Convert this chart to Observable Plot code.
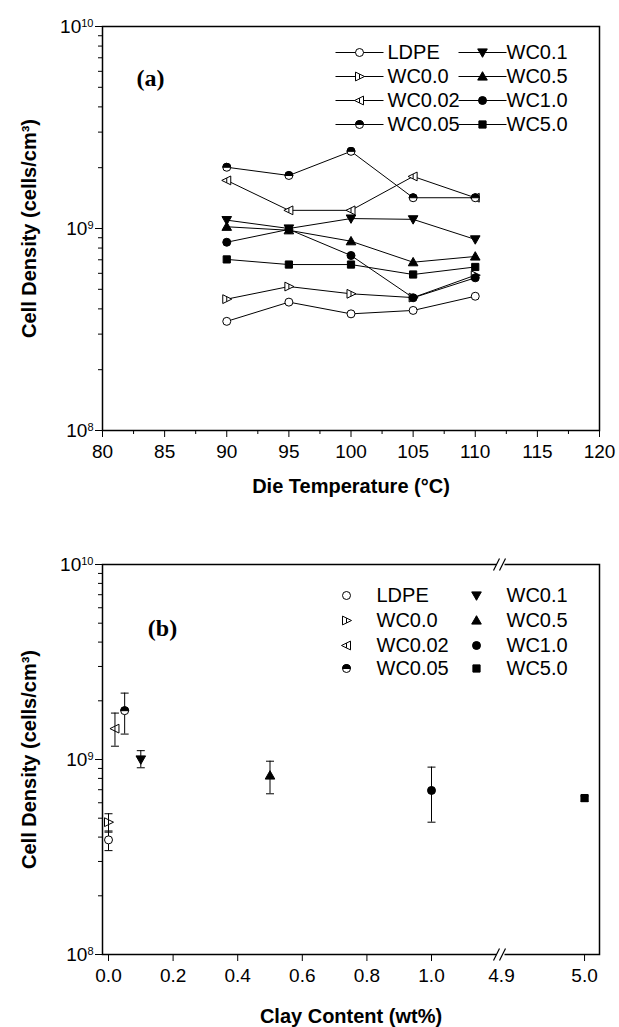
<!DOCTYPE html>
<html><head><meta charset="utf-8">
<script src="https://cdn.jsdelivr.net/npm/d3@7"></script>
<script src="https://cdn.jsdelivr.net/npm/@observablehq/plot@0.6"></script>
<style>
body{margin:0;background:#fff;}
#chart{width:619px;}
svg{display:block;}
</style></head><body><div id="chart"></div>
<script>
// ---------- data: panel (a) ----------
const temperatures = [90, 95, 100, 105, 110];
const seriesNames = ["LDPE", "WC0.0", "WC0.02", "WC0.05", "WC0.1", "WC0.5", "WC1.0", "WC5.0"];
const densityLDPE  = [3.47e8, 4.32e8, 3.78e8, 3.93e8, 4.62e8];
const densityWC00  = [4.47e8, 5.16e8, 4.75e8, 4.55e8, 5.87e8];
const densityWC002 = [1.73e9, 1.23e9, 1.23e9, 1.81e9, 1.42e9];
const densityWC005 = [2.01e9, 1.83e9, 2.41e9, 1.42e9, 1.42e9];
const densityWC01  = [1.10e9, 1.00e9, 1.12e9, 1.11e9, 8.83e8];
const densityWC05  = [1.02e9, 0.98e9, 8.65e8, 6.81e8, 7.27e8];
const densityWC10  = [8.55e8, 0.99e9, 7.35e8, 4.54e8, 5.70e8];
const densityWC50  = [7.03e8, 6.63e8, 6.63e8, 5.92e8, 6.45e8];
const tempTicks = [80, 85, 90, 95, 100, 105, 110, 115, 120];
const tempMinorTicks = [82.5, 87.5, 92.5, 97.5, 102.5, 107.5, 112.5, 117.5];

// ---------- data: panel (b) ----------
const clayContent = [0, 0, 0.02, 0.05, 0.1, 0.5, 1.0, 5.0];
const meanDensity = [3.87e8, 4.77e8, 1.44e9, 1.78e9, 1.00e9, 8.28e8, 6.94e8, 6.34e8];
const lowDensity  = [3.41e8, 4.24e8, 1.17e9, 1.35e9, 9.07e8, 6.67e8, 4.77e8, 6.10e8];
const highDensity = [4.30e8, 5.27e8, 1.73e9, 2.19e9, 1.11e9, 9.80e8, 9.14e8, 6.50e8];
const clayTicks = [0, 0.2, 0.4, 0.6, 0.8, 1.0, 5.0];
const clayBreakTick = [4.9];

const densityMajorTicks = [1e8, 1e9, 1e10];
const densityMinorTicks = [];
for (const dec of [1e8, 1e9]) for (let k = 2; k <= 9; k++) densityMinorTicks.push(k * dec);

const densityBySeries = {
  "LDPE": densityLDPE, "WC0.0": densityWC00, "WC0.02": densityWC002, "WC0.05": densityWC005,
  "WC0.1": densityWC01, "WC0.5": densityWC05, "WC1.0": densityWC10, "WC5.0": densityWC50
};

// ---------- styling ----------
const FONT = '"Liberation Sans", Arial, Helvetica, sans-serif';
const SERIF = '"Liberation Serif", "Times New Roman", serif';
function symbolOf(fn) { return {draw(ctx, size) { const s = Math.sqrt(size / Math.PI); fn(ctx, s); }}; }
const SYM = {
  circle: symbolOf((c, s) => { c.moveTo(s, 0); c.arc(0, 0, s, 0, 2 * Math.PI); }),
  topHalf: symbolOf((c, s) => { c.moveTo(-s, 0); c.arc(0, 0, s, Math.PI, 2 * Math.PI); c.closePath(); }),
  rightTri: symbolOf((c, s) => { c.moveTo(-s, -s * 1.1); c.lineTo(s * 1.25, 0); c.lineTo(-s, s * 1.1); c.closePath(); c.moveTo(0, -s * 0.6); c.lineTo(0, s * 0.6); }),
  leftTri: symbolOf((c, s) => { c.moveTo(s, -s * 1.1); c.lineTo(-s * 1.25, 0); c.lineTo(s, s * 1.1); c.closePath(); c.moveTo(0, -s * 0.6); c.lineTo(0, s * 0.6); }),
  downTri: symbolOf((c, s) => { c.moveTo(-s * 1.2, -s * 0.9); c.lineTo(s * 1.2, -s * 0.9); c.lineTo(0, s * 1.2); c.closePath(); }),
  upTri: symbolOf((c, s) => { c.moveTo(-s * 1.2, s * 0.9); c.lineTo(s * 1.2, s * 0.9); c.lineTo(0, -s * 1.2); c.closePath(); }),
  square: symbolOf((c, s) => { c.rect(-s * 0.9, -s * 0.9, s * 1.8, s * 1.8); }),
  cap: {draw(c) { c.moveTo(-4, 0); c.lineTo(4, 0); }},
  legLine: {draw(c) { c.moveTo(-24, 0); c.lineTo(24, 0); }},
  brk: {draw(c) { c.moveTo(-8, 6); c.lineTo(-2, -6); c.moveTo(-2, 6); c.lineTo(4, -6); }},
  gap: {draw(c) { c.rect(-5, -2, 8, 4); }}
};
const markerStyle = {
  "LDPE": [{symbol: SYM.circle, fill: "white"}],
  "WC0.0": [{symbol: SYM.rightTri, fill: "white"}],
  "WC0.02": [{symbol: SYM.leftTri, fill: "white"}],
  "WC0.05": [{symbol: SYM.circle, fill: "white"}, {symbol: SYM.topHalf, fill: "black"}],
  "WC0.1": [{symbol: SYM.downTri, fill: "black"}],
  "WC0.5": [{symbol: SYM.upTri, fill: "black"}],
  "WC1.0": [{symbol: SYM.circle, fill: "black"}],
  "WC5.0": [{symbol: SYM.square, fill: "black"}]
};
function markers(name, data, opts) {
  return markerStyle[name].map(st => Plot.dot(data, {r: 4, stroke: "black", strokeWidth: 1, ...opts, ...st}));
}

function legendMarks(withLines, rowsDy, col1, col2, fontSize) {
  const out = [];
  seriesNames.forEach((name, i) => {
    const col = i < 4 ? col1 : col2;
    const dy = rowsDy[i % 4];
    if (withLines) out.push(Plot.dot([0], {frameAnchor: "top-left", dx: col.sym, dy, symbol: SYM.legLine, r: 4, stroke: "black", fill: "none", strokeWidth: 1}));
    out.push(...markers(name, [0], {frameAnchor: "top-left", dx: col.sym, dy}));
    out.push(Plot.text([name], {frameAnchor: "top-left", dx: col.text, dy, text: d => d, textAnchor: "start", lineAnchor: "middle", fontSize, fill: "black"}));
  });
  return out;
}

function yAxes() {
  return [
    Plot.axisY({ticks: densityMajorTicks, tickSize: 7, tickPadding: 2, tickFormat: d => "10^" + Math.round(Math.log10(d)), fontSize: 19, label: null}),
    Plot.axisY({ticks: densityMinorTicks, tickSize: 4, tickFormat: () => "", label: null})
  ];
}

function superscriptTicks(svg) {
  d3.select(svg).selectAll('g[aria-label="y-axis tick label"] text').each(function () {
    const m = (this.textContent || "").match(/^10\^(\d+)$/);
    if (!m) return;
    const t = d3.select(this);
    t.text("10");
    t.append("tspan").attr("dy", "-0.55em").attr("font-size", "11px").text(m[1]);
  });
}

function titleMarks(xTitle, xTitleDy, yTitle) {
  return [
    Plot.text([xTitle], {frameAnchor: "bottom", dy: xTitleDy, text: d => d, textAnchor: "middle", lineAnchor: "middle", fontWeight: "bold", fontSize: 20, fill: "black"}),
    Plot.text([yTitle], {frameAnchor: "left", dx: -73, rotate: -90, text: d => d, textAnchor: "middle", lineAnchor: "middle", fontWeight: "bold", fontSize: 20, fill: "black"})
  ];
}

// ---------- panel (a) ----------
const lineData = seriesNames.flatMap(name => temperatures.map((t, i) => ({name, t, v: densityBySeries[name][i]})));

const marksA = [
  ...yAxes(),
  Plot.axisX({ticks: tempTicks, tickSize: 7, tickPadding: 7, fontSize: 19, label: null}),
  Plot.axisX({ticks: tempMinorTicks, tickSize: 4, tickFormat: () => "", label: null}),
  Plot.line(lineData, {x: "t", y: "v", z: "name", stroke: "black", strokeWidth: 1}),
  ...seriesNames.flatMap(name => markers(name, lineData.filter(d => d.name === name), {x: "t", y: "v"})),
  ...legendMarks(true, [26, 50, 74, 98], {sym: 257, text: 285}, {sym: 380, text: 404}, 20),
  Plot.text(["(a)"], {frameAnchor: "top-left", dx: 48, dy: 52, text: d => d, textAnchor: "middle", lineAnchor: "middle", fontFamily: SERIF, fontWeight: "bold", fontSize: 24, fill: "black"}),
  ...titleMarks("Die Temperature (\u00B0C)", 56, "Cell Density (cells/cm\u00B3)"),
  Plot.frame({stroke: "black", strokeWidth: 1.5})
];

const plotA = Plot.plot({
  width: 619, height: 510,
  marginLeft: 102, marginRight: 20, marginTop: 26, marginBottom: 80,
  x: {domain: [80, 120]},
  y: {type: "log", domain: [1e8, 1e10]},
  style: {fontFamily: FONT, fontSize: "19px", color: "black", background: "white"},
  marks: marksA
});
superscriptTicks(plotA);

// ---------- panel (b) ----------
const pointData = seriesNames.map((name, i) => ({name, c: clayContent[i], v: meanDensity[i], lo: lowDensity[i], hi: highDensity[i]}));

const marksB = [
  ...yAxes(),
  Plot.axisX({ticks: clayTicks, tickSize: 7, tickPadding: 7, tickFormat: d => d.toFixed(1), fontSize: 19, label: null}),
  Plot.axisX({ticks: clayBreakTick, tickSize: 0, tickPadding: 14, tickFormat: d => d.toFixed(1), fontSize: 19, label: null}),
  Plot.ruleX(pointData, {x: "c", y1: "lo", y2: "hi", stroke: "black", strokeWidth: 1}),
  Plot.dot(pointData, {x: "c", y: "lo", symbol: SYM.cap, r: 4, stroke: "black", strokeWidth: 1}),
  Plot.dot(pointData, {x: "c", y: "hi", symbol: SYM.cap, r: 4, stroke: "black", strokeWidth: 1}),
  ...seriesNames.flatMap(name => markers(name, pointData.filter(d => d.name === name), {x: "c", y: "v"})),
  ...legendMarks(false, [31, 56, 81, 104], {sym: 244, text: 274}, {sym: 374, text: 404}, 20),
  Plot.text(["(b)"], {frameAnchor: "top-left", dx: 60, dy: 64, text: d => d, textAnchor: "middle", lineAnchor: "middle", fontFamily: SERIF, fontWeight: "bold", fontSize: 24, fill: "black"}),
  ...titleMarks("Clay Content (wt%)", 62, "Cell Density (cells/cm\u00B3)"),
  Plot.frame({stroke: "black", strokeWidth: 1.5}),
  Plot.dot(clayBreakTick, {x: d => d, frameAnchor: "top", symbol: SYM.gap, r: 4, fill: "white", stroke: "none"}),
  Plot.dot(clayBreakTick, {x: d => d, frameAnchor: "bottom", symbol: SYM.gap, r: 4, fill: "white", stroke: "none"}),
  Plot.dot(clayBreakTick, {x: d => d, frameAnchor: "top", symbol: SYM.brk, r: 4, fill: "none", stroke: "black", strokeWidth: 1.2}),
  Plot.dot(clayBreakTick, {x: d => d, frameAnchor: "bottom", symbol: SYM.brk, r: 4, fill: "none", stroke: "black", strokeWidth: 1.2})
];

const plotB = Plot.plot({
  width: 619, height: 517,
  marginLeft: 102, marginRight: 20, marginTop: 54, marginBottom: 73,
  x: {type: "linear", domain: [-0.0186, 1.2167, 4.9, 5.018], range: [102, 501, 501, 599]},
  y: {type: "log", domain: [1e8, 1e10]},
  style: {fontFamily: FONT, fontSize: "19px", color: "black", background: "white"},
  marks: marksB
});
superscriptTicks(plotB);

document.getElementById("chart").append(plotA, plotB);
</script>
</body></html>
